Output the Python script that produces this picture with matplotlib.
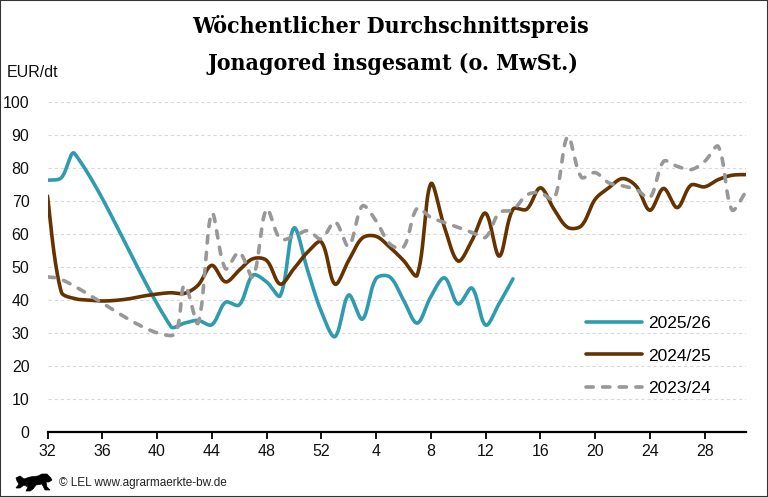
import numpy as np
import matplotlib
matplotlib.use("Agg")
import matplotlib.pyplot as plt
from matplotlib.patches import Rectangle, Polygon

# ---------------- data ----------------
weeks = list(range(32, 53)) + list(range(1, 32))          # 52 calendar weeks
tick_weeks = [32, 36, 40, 44, 48, 52, 4, 8, 12, 16, 20, 24, 28]

N = None
s_2025_26 = [76.3, 77.0, 84.3, N, N, N, N, N, N, 32.0, 33.0, 33.8, 32.5, 39.3,
             38.5, 47.5, 45.5, 41.3, 61.8, 49.0, 36.5, 28.9, 41.5, 34.2, 46.5, 47.0,
             40.0, 33.0, 41.0, 46.7, 38.8, 43.6, 32.4, 39.0, 46.4,
             N, N, N, N, N, N, N, N, N, N, N, N, N, N, N, N, N]
s_2024_25 = [71.5, 42.5, 40.4, 40.0, 39.7, 39.9, 40.4, 41.2, 41.8, 42.2, 42.0, 44.5,
             50.5, 45.5, 49.0, 52.5, 52.0, 44.8, 49.5, 54.5, 57.6, 44.8, 52.0, 58.8,
             59.3, 56.0, 52.0, 47.5, 75.2, 62.0, 51.8, 58.0, 66.3, 53.3, 67.5, 67.5,
             74.0, 67.5, 62.0, 62.5, 70.5, 74.0, 76.8, 74.5, 67.2, 73.8, 68.0, 74.8,
             74.3, 76.5, 77.8, 78.0]
s_2023_24 = [47.0, 46.3, N, N, N, N, N, N, N, 29.2, 44.5, 33.0, 66.3, 49.5, 54.5, 47.0,
             67.5, 58.5, 59.3, 61.0, 58.5, 63.7, 56.3, 68.5, 64.0, 57.0, 56.0, 67.8,
             65.0, 63.5, 62.0, 60.5, 59.0, 66.5, 67.3, 71.8, 72.5, 70.5, 89.5, 77.2,
             78.6, 75.5, 74.6, 73.5, 71.0, 82.0, 80.5, 79.5, 82.0, 86.5, 67.3, 72.8]

labels = ["2025/26", "2024/25", "2023/24"]
colors = ["#2E9BAF", "#663300", "#999797"]

W, H = 768, 497
AX_L, AX_R, AX_T, AX_B = 47.5, 745.7, 102.0, 432.0
NCAT = len(weeks)
PX_X = (AX_R - AX_L) / (NCAT - 1)     # pixels per category step
PX_Y = (AX_B - AX_T) / 100.0          # pixels per EUR/dt


def smooth(idx, vals, n=30):
    """Bezier smoothing of the line (chord-length weighted Catmull-Rom in pixel space)."""
    p = np.column_stack([np.asarray(idx, float) * PX_X, np.asarray(vals, float) * PX_Y])
    k = len(p)
    cin = np.zeros_like(p)
    cout = np.zeros_like(p)
    for i in range(k):
        prev = p[i - 1] if i > 0 else p[i]
        nxt = p[i + 1] if i < k - 1 else p[i]
        d = nxt - prev
        lin = np.hypot(*(p[i] - prev))
        lout = np.hypot(*(nxt - p[i]))
        if i == 0 or i == k - 1:
            cin[i] = p[i] - d / 6.0
            cout[i] = p[i] + d / 6.0
        else:
            tot = lin + lout
            cin[i] = p[i] - d * (lin / tot) / 3.0
            cout[i] = p[i] + d * (lout / tot) / 3.0
    xs, ys = [], []
    for i in range(k - 1):
        t = np.linspace(0, 1, n)[:, None]
        b = ((1 - t) ** 3) * p[i] + 3 * ((1 - t) ** 2) * t * cout[i] \
            + 3 * (1 - t) * t ** 2 * cin[i + 1] + t ** 3 * p[i + 1]
        if i > 0:
            b = b[1:]
        xs.append(b[:, 0] / PX_X)
        ys.append(b[:, 1] / PX_Y)
    return np.concatenate(xs), np.concatenate(ys)


fig = plt.figure(figsize=(W / 100, H / 100), dpi=100)
ax = fig.add_axes([AX_L / W, 1 - AX_B / H, (AX_R - AX_L) / W, (AX_B - AX_T) / H])

tickfont = ["Liberation Sans Narrow", "Liberation Sans", "DejaVu Sans"]

series = [s_2025_26, s_2024_25, s_2023_24]
zorders = [3, 4, 5]
handles = []
for vals, lab, col, z in zip(series, labels, colors, zorders):
    idx = [i for i, v in enumerate(vals) if v is not None]
    v = [vals[i] for i in idx]
    sx, sy = smooth(idx, v)
    if lab == "2023/24":
        ln, = ax.plot(sx, sy, color=col, lw=2.6, ls=(0, (2.0, 2.6)),
                      dash_capstyle="round", zorder=z, label=lab)
    else:
        ln, = ax.plot(sx, sy, color=col, lw=2.6, solid_capstyle="round",
                      solid_joinstyle="round", zorder=z, label=lab)
    handles.append(ln)

ax.set_xlim(0, NCAT - 1)
ax.set_ylim(0, 100)
ax.set_yticks(range(0, 101, 10))
ax.set_xticks([weeks.index(w) for w in tick_weeks])
ax.set_xticklabels([str(w) for w in tick_weeks])

for s in ["top", "right", "left"]:
    ax.spines[s].set_visible(False)
ax.spines["bottom"].set_linewidth(1.6)
ax.spines["bottom"].set_color("black")
ax.spines["bottom"].set_zorder(6)

ax.tick_params(axis="y", length=0, pad=13, labelsize=11.5)
ax.tick_params(axis="x", length=5, width=1.3, direction="out", pad=4, labelsize=11.5)
for lab in ax.get_xticklabels() + ax.get_yticklabels():
    lab.set_fontfamily(tickfont)
    lab.set_color("#111111")

ax.yaxis.grid(True, color="#D9D9D9", lw=0.8, ls=(0, (3, 2.5)))
ax.set_axisbelow(True)

leg = ax.legend(handles=handles, loc="upper left",
                bbox_to_anchor=(586 / W, 1 - 315.5 / H), bbox_transform=fig.transFigure,
                frameon=False, borderpad=0, borderaxespad=0, handlelength=3.2,
                handletextpad=0.38, labelspacing=1.02,
                prop={"family": ["Liberation Sans", "DejaVu Sans"], "size": 12.5})

# titles and texts
title_font = dict(family=["DejaVu Serif"], fontstretch="condensed", weight="bold", size=16.5)
fig.text(391 / W, 1 - 33 / H, "Wöchentlicher Durchschnittspreis", ha="center",
         va="baseline", **title_font)
fig.text(393 / W, 1 - 70 / H, "Jonagored insgesamt (o. MwSt.)", ha="center",
         va="baseline", **title_font)
fig.text(7 / W, 1 - 72 / H, "EUR/dt", ha="left", va="center", fontsize=11.5,
         family=tickfont, color="#111111")
fig.text(59 / W, 1 - 483 / H, "© LEL www.agrarmaerkte-bw.de", ha="left", va="center",
         fontsize=8.5, family=tickfont, color="#222222")

# small emblem in the footer
lion_px = [(16, 478), (20, 476), (24, 479), (30, 477), (38, 476), (42, 474), (47, 474),
           (50, 477), (52, 480), (49, 482), (46, 482), (47, 487), (50, 490), (45, 490),
           (42, 484), (36, 485), (33, 489), (30, 491), (26, 491), (28, 487), (24, 485),
           (20, 488), (16, 488), (19, 484), (17, 481)]
fig.patches.append(Polygon([(px / W, 1 - py / H) for px, py in lion_px], closed=True,
                           transform=fig.transFigure, facecolor="black", edgecolor="black",
                           lw=0.5))

fig.patches.append(Rectangle((0, 0), 1, 1, transform=fig.transFigure, fill=False,
                             edgecolor="#333333", lw=1.5))

fig.savefig("out.png", dpi=100)
